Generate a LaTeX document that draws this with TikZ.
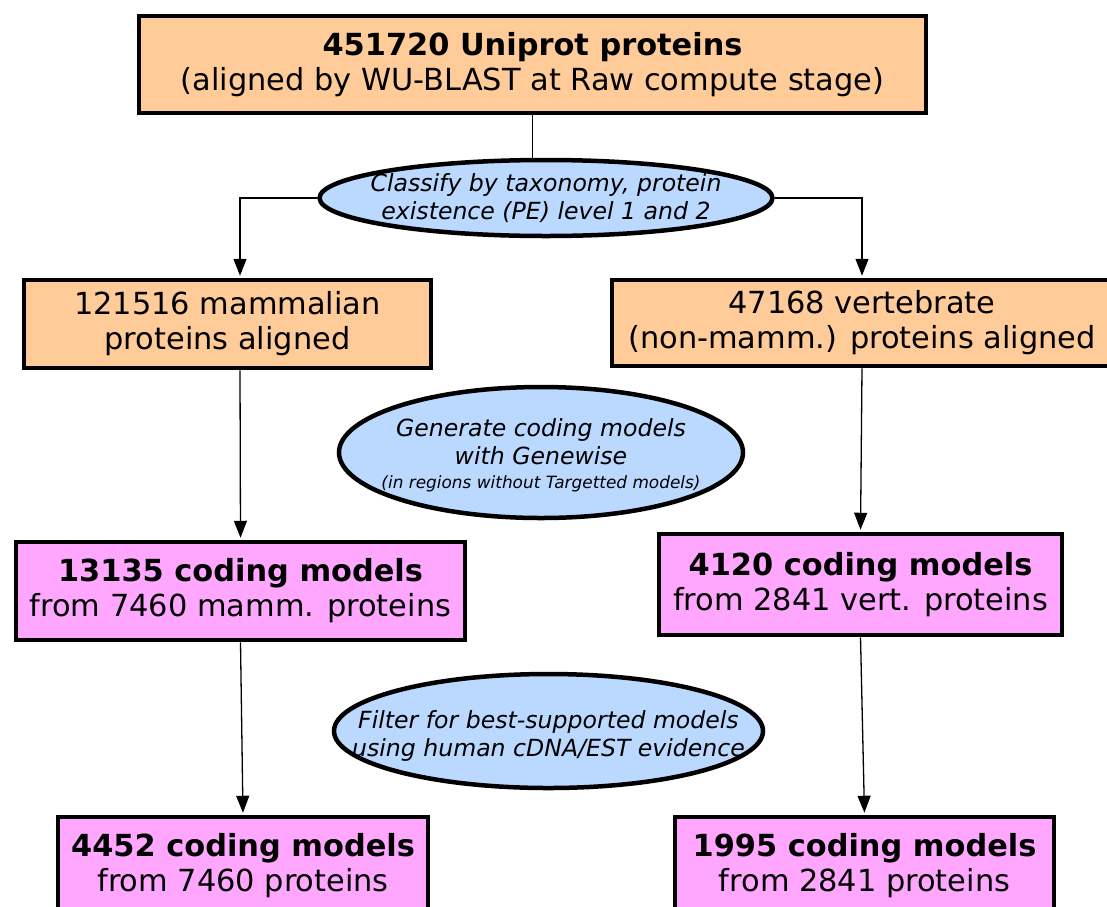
\documentclass[tikz,border=0pt]{standalone}
\usepackage{fontspec}
\setmainfont{DejaVu Sans}
\usetikzlibrary{arrows.meta,shapes.geometric}
\definecolor{peach}{RGB}{255,204,153}
\definecolor{pinkbox}{RGB}{255,166,255}
\definecolor{bluebg}{RGB}{187,217,255}
\newcommand{\mysmalltext}{\fontsize{16.9}{20}\selectfont\itshape}
\begin{document}
\begin{tikzpicture}[x=1pt,y=-1pt,
  box/.style={draw=black, line width=4.5pt, rectangle, inner sep=0pt, align=center,
    font=\fontsize{30.4}{35}\selectfont},
  peachbox/.style={box, fill=peach},
  pinkb/.style={box, fill=pinkbox},
  oval/.style={draw=black, line width=4.5pt, ellipse, fill=bluebg, inner sep=0pt},
  ovaltext/.style={align=center, inner sep=0pt, font=\fontsize{23.6}{28}\selectfont\itshape},
  conn/.style={line width=1.3pt, draw=black},
  arr/.style={conn, shorten >=2pt, -{Triangle[length=17pt,width=13pt]}}]
\useasboundingbox (0,0) rectangle (1107,906);
\clip (0,0) rectangle (1107,906);
\fill[white] (0,0) rectangle (1107,906);

% boxes
\node[peachbox, minimum width=787pt, minimum height=97pt] (top) at (532.5,64.5)
  {\textbf{451720 Uniprot proteins}\\(aligned by WU-BLAST at Raw compute stage)};
\node[peachbox, minimum width=407pt, minimum height=88pt] (left2) at (227.5,324)
  {121516 mammalian\\proteins aligned};
\node[peachbox, minimum width=500pt, minimum height=86pt] (right2) at (862,323)
  {47168 vertebrate\\(non-mamm.) proteins aligned};
\node[pinkb, minimum width=449pt, minimum height=98pt] (left3) at (240.5,591)
  {\textbf{13135 coding models}\\from 7460 mamm. proteins};
\node[pinkb, minimum width=403pt, minimum height=101pt] (right3) at (860.5,584.5)
  {\textbf{4120 coding models}\\from 2841 vert. proteins};
\node[pinkb, minimum width=370pt, minimum height=98pt] (left4) at (243,866)
  {\textbf{4452 coding models}\\from 7460 proteins};
\node[pinkb, minimum width=379pt, minimum height=98pt] (right4) at (864.5,866)
  {\textbf{1995 coding models}\\from 2841 proteins};

% ellipses
\node[oval, minimum width=453pt, minimum height=76pt] (e1) at (546,198) {};
\node[ovaltext] (e1t) at (546,198) {Classify by taxonomy, protein\\existence (PE) level 1 and 2};
\node[oval, minimum width=404pt, minimum height=131pt] (e2) at (541,452.5) {};
\node[ovaltext] (e2t) at (541,455) {Generate coding models\\with Genewise\\[-4pt]{\mysmalltext (in regions without Targetted models)}};
\node[oval, minimum width=429pt, minimum height=114pt] (e3) at (548.5,731) {};
\node[ovaltext] (e3t) at (548.5,736) {Filter for best-supported models\\using human cDNA/EST evidence};

% connectors
\draw[conn] (top.south) -- (top.south |- e1.north);
\draw[arr] (e1.west) -| ([xshift=12.5pt]left2.north);
\draw[arr] (e1.east) -| (right2.north);
\draw[arr] ([xshift=12.5pt]left2.south) -- (left3.north);
\draw[arr] (right2.south) -- (right3.north);
\draw[arr] (left3.south) -- (left4.north);
\draw[arr] (right3.south) -- (right4.north);
\end{tikzpicture}
\end{document}
